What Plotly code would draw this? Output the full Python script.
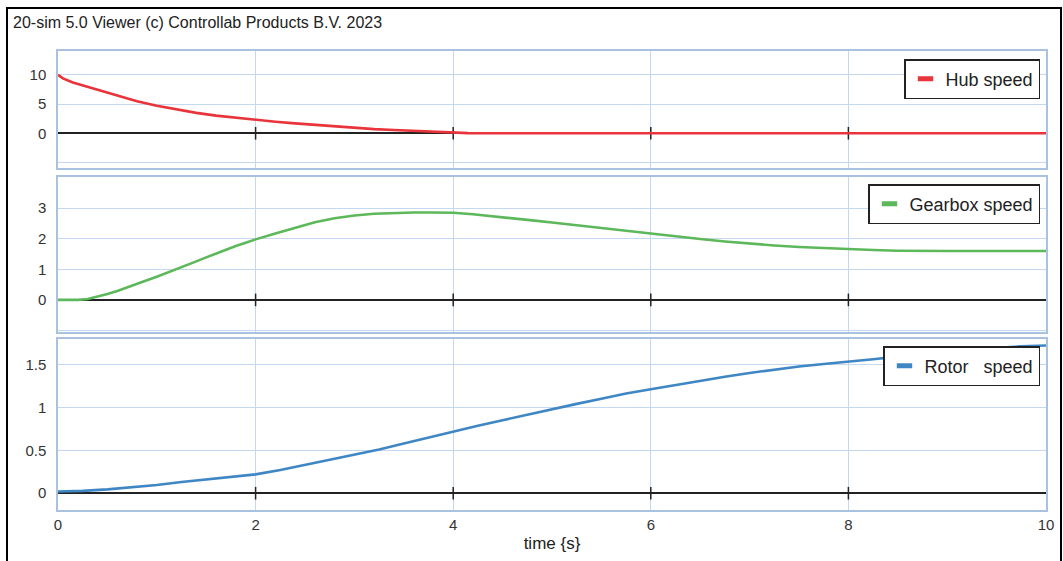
import plotly.graph_objects as go

# ---------------- data ----------------
time_hub = [0, 0.05, 0.15, 0.25, 0.4, 0.6, 0.8, 1.0, 1.2, 1.4, 1.6, 1.8, 2.0, 2.2, 2.4,
            2.6, 2.8, 3.0, 3.2, 3.4, 3.6, 3.8, 4.0, 4.1, 4.15, 5.0, 6.0, 7.0, 8.0, 9.0, 10.0]
hub_speed = [10.0, 9.4, 8.7, 8.2, 7.4, 6.4, 5.5, 4.7, 4.05, 3.5, 3.03, 2.65, 2.29, 1.98, 1.7,
             1.44, 1.18, 0.92, 0.72, 0.55, 0.42, 0.3, 0.22, 0.18, 0.02, 0.0, 0.0, 0.0, 0.0, 0.0, 0.0]

time_gear = [0, 0.2, 0.3, 0.4, 0.5, 0.6, 0.7, 0.8, 0.9, 1.0, 1.1, 1.2, 1.3, 1.4, 1.5, 1.6,
             1.7, 1.8, 1.9, 2.0, 2.2, 2.4, 2.6, 2.8, 3.0, 3.2, 3.4, 3.6, 3.8, 4.0, 4.2,
             4.4, 4.6, 4.8, 5.0, 5.25, 5.5, 5.75, 6.0, 6.25, 6.5, 6.75, 7.0, 7.25, 7.5,
             7.75, 8.0, 8.25, 8.5, 8.75, 9.0, 10.0]
gearbox_speed = [0, 0.0, 0.03, 0.1, 0.19, 0.29, 0.4, 0.52, 0.64, 0.76, 0.88, 1.0, 1.13, 1.26,
                 1.39, 1.52, 1.64, 1.76, 1.87, 1.98, 2.17, 2.36, 2.54, 2.67, 2.76, 2.82, 2.85,
                 2.86, 2.86, 2.85, 2.8, 2.74, 2.67, 2.6, 2.53, 2.44, 2.34, 2.24, 2.15, 2.07,
                 1.99, 1.91, 1.84, 1.78, 1.73, 1.69, 1.66, 1.63, 1.61, 1.6, 1.6, 1.6]

time_rotor = [0, 0.25, 0.5, 0.75, 1.0, 1.25, 1.5, 1.75, 2.0, 2.25, 2.5, 2.75, 3.0, 3.25,
              3.5, 3.75, 4.0, 4.25, 4.5, 4.75, 5.0, 5.25, 5.5, 5.75, 6.0, 6.25, 6.5, 6.75,
              7.0, 7.25, 7.5, 7.75, 8.0, 8.25, 8.5, 8.75, 9.0, 9.25, 9.5, 9.75, 10.0]
rotor_speed = [0.02, 0.027, 0.045, 0.07, 0.095, 0.13, 0.16, 0.185, 0.22, 0.27, 0.33, 0.39,
               0.45, 0.51, 0.58, 0.65, 0.72, 0.785, 0.85, 0.915, 0.98, 1.04, 1.1, 1.16, 1.21,
               1.26, 1.31, 1.355, 1.4, 1.44, 1.475, 1.505, 1.53, 1.56, 1.59, 1.62, 1.645,
               1.67, 1.69, 1.71, 1.72]

x_ticks = [0, 2, 4, 6, 8, 10]
x_inner_ticks = [2, 4, 6, 8]
hub_ticks = [-5, 0, 5, 10]
hub_ticktext = ["", "0", "5", "10"]
gear_ticks = [-1, 0, 1, 2, 3]
gear_ticktext = ["", "0", "1", "2", "3"]
rotor_ticks = [0, 0.5, 1, 1.5]
rotor_ticktext = ["0", "0.5", "1", "1.5"]

names = ["Hub speed", "Gearbox speed", "Rotor\u00a0\u00a0 speed"]
colors = ["#e8343a", "#5cb85a", "#3f86c4"]

# ---------------- styling ----------------
FONT = "Liberation Sans, Arial, sans-serif"
GRID = "#c4d8ef"
BORDER = "#a9c2df"
TXT = "#333333"

W, H = 1063, 561
L, R, T, B = 58, 17, 51, 51
plot_h = H - T - B
plot_w = W - L - R


def py(p):  # pixel y -> paper y
    return (H - B - p) / plot_h


def px(p):  # pixel x -> paper x
    return (p - L) / plot_w


fig = go.Figure()

series = [(time_hub, hub_speed), (time_gear, gearbox_speed), (time_rotor, rotor_speed)]
axes = [("x", "y"), ("x2", "y2"), ("x3", "y3")]
legends = ["legend", "legend2", "legend3"]

for i, ((t, v), (xa, ya)) in enumerate(zip(series, axes)):
    # small tick marks on the zero axis line
    fig.add_trace(go.Scatter(
        x=x_inner_ticks, y=[0] * len(x_inner_ticks), xaxis=xa, yaxis=ya,
        mode="markers", showlegend=False, hoverinfo="skip",
        marker=dict(symbol="line-ns", size=9, color="#222",
                    line=dict(width=1.5, color="#222"))))
    # data line
    fig.add_trace(go.Scatter(
        x=t, y=v, xaxis=xa, yaxis=ya, mode="lines", showlegend=False,
        line=dict(color=colors[i], width=2.6)))
    # legend entry (short bar symbol)
    fig.add_trace(go.Scatter(
        x=[None], y=[None], xaxis=xa, yaxis=ya, mode="markers", name=names[i],
        legend=legends[i],
        marker=dict(symbol="line-ew", size=11, color=colors[i],
                    line=dict(width=5, color=colors[i]))))

domains = [[py(168), 1.0], [py(332), py(177)], [0.0, py(339)]]
ranges = [[-5.95, 14.1], [-1.05, 4.02], [-0.195, 1.795]]
tickvals = [hub_ticks, gear_ticks, rotor_ticks]
ticktexts = [hub_ticktext, gear_ticktext, rotor_ticktext]

layout = dict(
    width=W, height=H, autosize=False,
    margin=dict(l=L, r=R, t=T, b=B, pad=0, autoexpand=False),
    paper_bgcolor="white", plot_bgcolor="white",
    font=dict(family=FONT, color=TXT, size=15),
    title=dict(text="20-sim 5.0 Viewer (c) Controllab Products B.V. 2023",
               x=13 / W, xanchor="left", xref="container",
               y=1 - 22 / H, yanchor="middle", yref="container",
               automargin=False,
               font=dict(family=FONT, size=16, color="#222")),
    showlegend=True,
)

for i in range(3):
    n = "" if i == 0 else str(i + 1)
    anchor_y = "y" + n
    layout["xaxis" + n] = dict(
        domain=[0, 1], range=[0, 10], anchor=anchor_y,
        tickvals=x_ticks, showgrid=True, gridcolor=GRID, gridwidth=1,
        showline=True, linecolor=BORDER, linewidth=1.5, mirror=True,
        zeroline=False, ticks="", showticklabels=(i == 2), automargin=False,
        tickfont=dict(size=15, color=TXT),
        matches=None if i == 0 else "x",
    )
    layout["yaxis" + n] = dict(
        domain=domains[i], range=ranges[i], anchor="x" + n,
        tickvals=tickvals[i], ticktext=ticktexts[i],
        showgrid=True, gridcolor=GRID, gridwidth=1,
        showline=True, linecolor=BORDER, linewidth=1.5, mirror=True,
        zeroline=True, zerolinecolor="#222", zerolinewidth=1.5,
        ticks="", ticklabelstandoff=7, automargin=False,
        tickfont=dict(size=15, color=TXT),
    )

layout["xaxis3"]["ticklabelstandoff"] = 0
layout["xaxis3"]["title"] = dict(text="time {s}", standoff=5,
                                 font=dict(size=17, color="#222"))

legend_tops = [py(59), py(184), py(346)]
for i, lg in enumerate(legends):
    layout[lg] = dict(
        x=px(1040), xanchor="right", y=legend_tops[i], yanchor="top",
        bgcolor="white", bordercolor="#222", borderwidth=1.5,
        font=dict(family=FONT, size=18, color="#222"),
        itemwidth=30,
    )

layout["shapes"] = [dict(
    type="rect", xref="paper", yref="paper",
    x0=px(7), x1=px(1061), y0=py(575), y1=py(8),
    line=dict(color="black", width=2), fillcolor="rgba(0,0,0,0)", layer="above")]

fig.update_layout(**layout)
fig.write_html("out.html",
               config={"displayModeBar": False},
               post_script="document.body.style.margin='0';document.body.style.padding='0';")
